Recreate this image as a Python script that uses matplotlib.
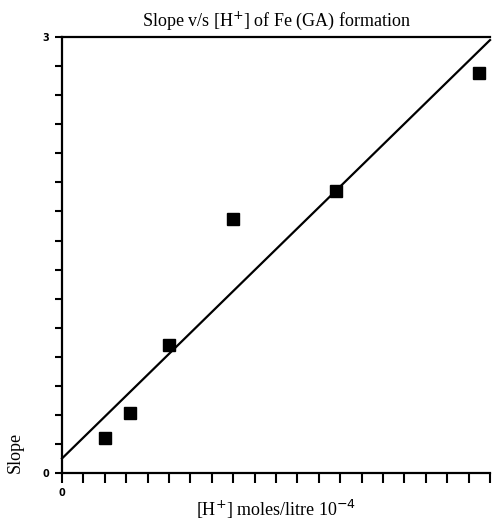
import numpy as np
import matplotlib
matplotlib.use('Agg')
from matplotlib import pyplot as plt

# Data
h_conc = [2.0, 3.2, 5.0, 8.0, 12.8, 19.5]
slope_vals = [0.24, 0.41, 0.88, 1.75, 1.94, 2.75]
fit_intercept = 0.10
fit_slope = 0.144
x_ticks = list(range(0, 21))
y_ticks = [round(0.2 * i, 1) for i in range(16)]

fig = plt.figure(figsize=(4.92, 5.23), dpi=100)
ax = fig.add_axes([0.126, 0.0956, 0.87, 0.8334])

# Fitted line and points
x_line = np.array([0, 20])
ax.plot(x_line, fit_intercept + fit_slope * x_line, color='black', lw=1.6, clip_on=False)
ax.plot(h_conc, slope_vals, 's', color='black', ms=8)

ax.set_xlim(0, 20)
ax.set_ylim(0, 3)
ax.set_xticks(x_ticks)
ax.set_xticklabels(['0'] + [''] * 20)
ax.set_yticks(y_ticks)
ax.set_yticklabels(['0'] + [''] * 14 + ['3'])
ax.tick_params(axis='x', direction='out', length=7, width=1.5, pad=4, labelsize=7)
ax.tick_params(axis='y', direction='out', length=5, width=1.5, pad=4, labelsize=7)
for lab in ax.get_xticklabels() + ax.get_yticklabels():
    lab.set_fontweight('bold')

ax.spines['right'].set_visible(False)
for s in ['left', 'bottom', 'top']:
    ax.spines[s].set_linewidth(1.6)

ax.set_title('Slope v/s [H$^{+}$] of Fe (GA) formation', family='Liberation Serif',
             fontsize=13, pad=8)
ax.set_xlabel('[H$^{+}$] moles/litre 10$^{-4}$', family='Liberation Serif', fontsize=13,
              labelpad=0)
fig.text(0.03, 0.135, 'Slope', rotation=90, family='Liberation Serif', fontsize=13,
         ha='center', va='center')

fig.savefig('out.png', dpi=100)
